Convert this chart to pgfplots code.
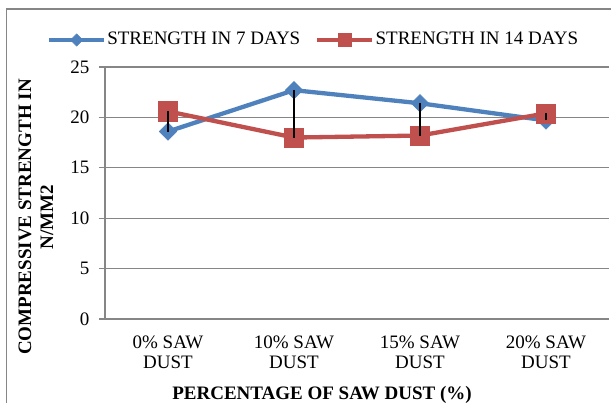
\documentclass[border=0pt]{standalone}
\usepackage{pgfplots}
\pgfplotsset{compat=1.18}
\usepackage{fontspec}
\setmainfont{Liberation Serif}
\definecolor{xblue}{RGB}{79,129,189}
\definecolor{xred}{RGB}{192,80,77}
\definecolor{xgray}{RGB}{134,134,134}
\begin{document}
\fontsize{19pt}{22pt}\selectfont
\begin{tikzpicture}
\useasboundingbox (0,0) rectangle (611pt,403pt);
\clip (0,0) rectangle (611pt,403pt);
\draw[xgray, line width=1.2pt] (6.5pt,394pt) rectangle (640pt,-30pt);
\begin{axis}[
 at={(105pt,84pt)}, anchor=south west,
 scale only axis, width=504pt, height=252pt,
 xmin=-0.5, xmax=3.5, ymin=0, ymax=25,
 clip marker paths=true,
 xtick={0,1,2,3},
 xticklabels={{0\% SAW\\DUST},{10\% SAW\\DUST},{15\% SAW\\DUST},{20\% SAW\\DUST}},
 ytick={0,5,10,15,20,25},
 axis x line*=bottom, axis y line*=left,
 axis line style={xgray, line width=1.2pt, -},
 ymajorgrids, grid style={xgray, line width=1.2pt},
 tick align=outside,
 x tick style={draw=none},
 y tick style={xgray, line width=1.2pt},
 major tick length=6pt,
 tick label style={font=\fontsize{19pt}{20pt}\selectfont},
 /pgf/number format/assume math mode=true,
 xticklabel style={align=center, yshift=-4pt},
 yticklabel style={xshift=-3pt},
 xlabel={\textbf{PERCENTAGE OF SAW DUST (\%)}},
 xlabel style={at={(axis description cs:0.4306,-0.3175)}, anchor=base, font=\fontsize{19pt}{22pt}\selectfont},
 ylabel={\textbf{COMPRESSIVE STRENGTH IN}\\\textbf{N/MM2}},
 ylabel style={at={(axis description cs:-0.1369,0.4048)}, anchor=center, align=center, font=\fontsize{19pt}{22pt}\selectfont},
 legend columns=2,
 legend style={at={(axis description cs:-0.11508,1.1071)}, anchor=west, draw=none, fill=none, inner sep=0pt, outer sep=0pt,
   font=\fontsize{19pt}{22pt}\selectfont, nodes={inner sep=0pt},
   /tikz/every odd column/.append style={column sep=1pt},
   /tikz/every even column/.append style={column sep=15pt}},
 legend image code/.code={\draw[mark repeat=2, mark phase=2, #1] plot coordinates {(0pt,0pt)(27.5pt,0pt)(55pt,0pt)};},
 legend image post style={every mark/.append style={scale=0.7}},
]
\addplot[xblue, line width=4.3pt, mark=square*, mark size=6.2pt, mark options={rotate=45, solid, line width=0.5pt}] coordinates {(0,18.6) (1,22.7) (2,21.4) (3,19.7)};
\addlegendentry{STRENGTH IN 7 DAYS}
\addplot[xred, line width=4.3pt, mark=square*, mark size=9.6pt, mark options={solid, line width=0.5pt}] coordinates {(0,20.6) (1,18.0) (2,18.2) (3,20.4)};
\addlegendentry{STRENGTH IN 14 DAYS}
\addplot[black, line width=1.4pt, forget plot] coordinates {(0,18.6) (0,20.6)};
\addplot[black, line width=1.4pt, forget plot] coordinates {(1,22.7) (1,18.0)};
\addplot[black, line width=1.4pt, forget plot] coordinates {(2,21.4) (2,18.2)};
\addplot[black, line width=1.4pt, forget plot] coordinates {(3,19.7) (3,20.4)};
\end{axis}
\end{tikzpicture}
\end{document}
